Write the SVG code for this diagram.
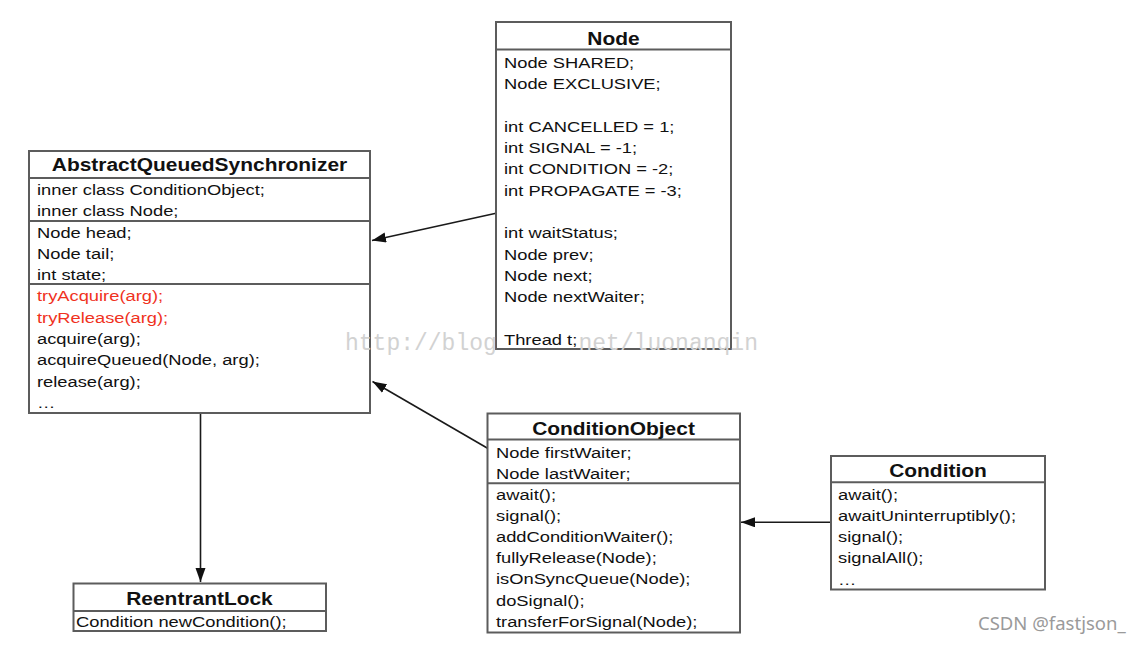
<svg xmlns="http://www.w3.org/2000/svg" width="1146" height="648" viewBox="0 0 1146 648">
<style>
.box{fill:#fff;stroke:#5c5c5c;stroke-width:2}
.sep{stroke:#5c5c5c;stroke-width:2}
.t{font-family:"Liberation Sans",Arial,sans-serif;font-size:15.4px;fill:#111}
.red{fill:#f0321e}
.h{font-family:"Liberation Sans",Arial,sans-serif;font-size:17.6px;font-weight:bold;fill:#111;text-anchor:middle}
.conn{stroke:#1a1a1a;stroke-width:1.6;fill:none}
.wm{font-family:"Liberation Mono","Courier New",monospace;font-size:23px;fill:#d2d2d2}
</style>
<defs>
<marker id="arr" markerUnits="userSpaceOnUse" markerWidth="16" markerHeight="12" refX="14" refY="5" orient="auto">
<path d="M0,0 L14,5 L0,10 z" fill="#111"/>
</marker>
</defs>

<g id="connectors">
<line class="conn" x1="496" y1="213.3" x2="372" y2="240.5" marker-end="url(#arr)"/>
<line class="conn" x1="488" y1="448.5" x2="372.5" y2="381.5" marker-end="url(#arr)"/>
<line class="conn" x1="200.5" y1="413" x2="200.5" y2="582" marker-end="url(#arr)"/>
<line class="conn" x1="830" y1="522.3" x2="741" y2="522.3" marker-end="url(#arr)"/>
</g>

<g id="aqs">
<rect class="box" x="29" y="151" width="341" height="262"/>
<line class="sep" x1="29" y1="178" x2="370" y2="178"/>
<line class="sep" x1="29" y1="221" x2="370" y2="221"/>
<line class="sep" x1="29" y1="284" x2="370" y2="284"/>
<g transform="scale(1.19 1)">
<text class="h" x="167.65" y="171.5">AbstractQueuedSynchronizer</text>
<text class="t" x="31.09" y="195">inner class ConditionObject;</text>
<text class="t" x="31.09" y="216.3">inner class Node;</text>
<text class="t" x="31.09" y="237.6">Node head;</text>
<text class="t" x="31.09" y="258.9">Node tail;</text>
<text class="t" x="31.09" y="280.2">int state;</text>
<text class="t red" x="31.09" y="301.5">tryAcquire(arg);</text>
<text class="t red" x="31.09" y="322.8">tryRelease(arg);</text>
<text class="t" x="31.09" y="344.1">acquire(arg);</text>
<text class="t" x="31.09" y="365.4">acquireQueued(Node, arg);</text>
<text class="t" x="31.09" y="386.7">release(arg);</text>
<text class="t" x="31.09" y="408">…</text>
</g>
</g>

<g id="node">
<rect class="box" x="496" y="22" width="235" height="327"/>
<line class="sep" x1="496" y1="49.5" x2="731" y2="49.5"/>
<g transform="scale(1.19 1)">
<text class="h" x="515.55" y="45">Node</text>
<text class="t" x="423.53" y="68">Node SHARED;</text>
<text class="t" x="423.53" y="89.3">Node EXCLUSIVE;</text>
<text class="t" x="423.53" y="131.9">int CANCELLED = 1;</text>
<text class="t" x="423.53" y="153.2">int SIGNAL = -1;</text>
<text class="t" x="423.53" y="174.5">int CONDITION = -2;</text>
<text class="t" x="423.53" y="195.8">int PROPAGATE = -3;</text>
<text class="t" x="423.53" y="238.4">int waitStatus;</text>
<text class="t" x="423.53" y="259.7">Node prev;</text>
<text class="t" x="423.53" y="281">Node next;</text>
<text class="t" x="423.53" y="302.3">Node nextWaiter;</text>
<text class="t" x="423.53" y="344.9">Thread t;</text>
</g>
</g>

<g id="watermark">
<text class="wm" x="345" y="350">http://blog</text>
<text class="wm" x="578.5" y="350">net/luonanqin</text>
</g>

<g id="conditionObject">
<rect class="box" x="487.5" y="413.5" width="252.5" height="219"/>
<line class="sep" x1="487.5" y1="439.5" x2="740" y2="439.5"/>
<line class="sep" x1="487.5" y1="483.3" x2="740" y2="483.3"/>
<g transform="scale(1.19 1)">
<text class="h" x="515.55" y="435">ConditionObject</text>
<text class="t" x="416.81" y="458.2">Node firstWaiter;</text>
<text class="t" x="416.81" y="479.3">Node lastWaiter;</text>
<text class="t" x="416.81" y="500.3">await();</text>
<text class="t" x="416.81" y="521.4">signal();</text>
<text class="t" x="416.81" y="542.4">addConditionWaiter();</text>
<text class="t" x="416.81" y="563.5">fullyRelease(Node);</text>
<text class="t" x="416.81" y="584.5">isOnSyncQueue(Node);</text>
<text class="t" x="416.81" y="605.6">doSignal();</text>
<text class="t" x="416.81" y="626.6">transferForSignal(Node);</text>
</g>
</g>

<g id="reentrantLock">
<rect class="box" x="73.5" y="583.5" width="252.5" height="47.5"/>
<line class="sep" x1="73.5" y1="611" x2="326" y2="611"/>
<g transform="scale(1.19 1)">
<text class="h" x="167.65" y="605">ReentrantLock</text>
<text class="t" x="63.87" y="627.5">Condition newCondition();</text>
</g>
</g>

<g id="condition">
<rect class="box" x="831" y="456" width="214" height="133.5"/>
<line class="sep" x1="831" y1="482.3" x2="1045" y2="482.3"/>
<g transform="scale(1.19 1)">
<text class="h" x="788.24" y="476.7">Condition</text>
<text class="t" x="704.2" y="500">await();</text>
<text class="t" x="704.2" y="521">awaitUninterruptibly();</text>
<text class="t" x="704.2" y="542">signal();</text>
<text class="t" x="704.2" y="563">signalAll();</text>
<text class="t" x="704.2" y="585">…</text>
</g>
</g>

<text x="978" y="630" style="font-family:'Noto Sans','DejaVu Sans',sans-serif;font-size:18.5px;fill:#9a9a9a">CSDN @fastjson_</text>
</svg>
